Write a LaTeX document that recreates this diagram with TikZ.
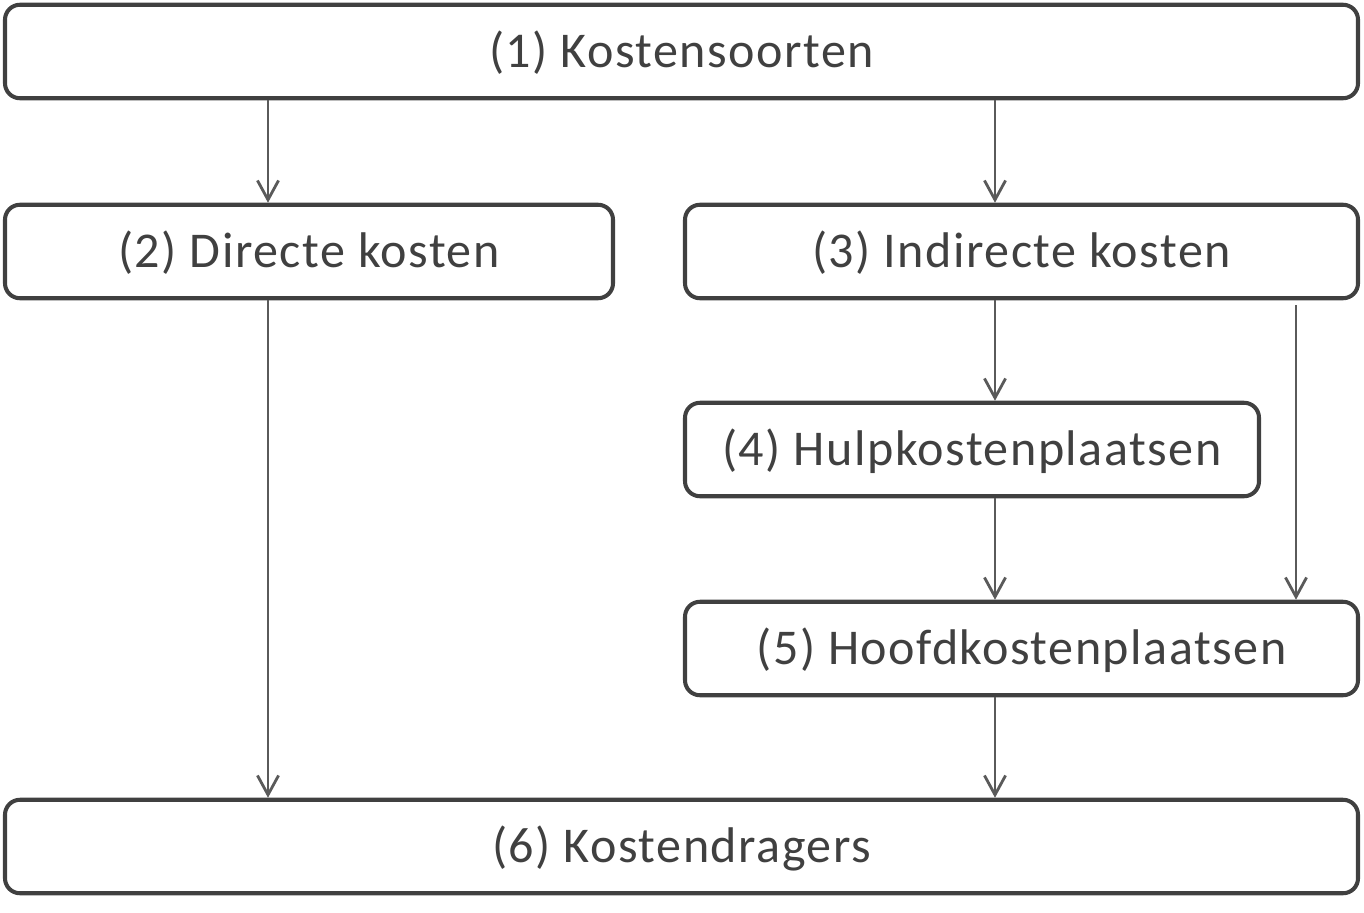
\documentclass[tikz,border=0pt]{standalone}
\usepackage{fontspec}
\setmainfont{Carlito}
\newfontfamily\blokfont[LetterSpace=3]{Carlito}
\usetikzlibrary{arrows.meta}
\definecolor{rand}{HTML}{404040}
\definecolor{pijlkleur}{HTML}{5A5A5A}

\begin{document}
\begin{tikzpicture}[
		blok/.style = {draw = rand, line width = 2.3pt, rounded corners = 0.3cm, text = rand,
			minimum height = 1.87cm, inner sep = 0pt, text height = 0.64cm, text depth = 0pt,
			font = \blokfont\fontsize{28.5}{32}\selectfont},
		pijl/.style = {draw = pijlkleur, line width = 1.6pt, -{Straight Barb[length = 11pt, width = 12pt]}}
	]
		\useasboundingbox (0,0) rectangle (27.28,-18.24);
		\def\xa{5.36};
		\def\xb{19.90};
		\def\xc{25.92};
		
		\coordinate (xa) at (\xa,0);
		\coordinate (xb) at (\xb,0);
		\coordinate (xc) at (\xc,0);
		
		\node [blok, minimum width = 27.06cm] (soorten) at (13.63,-1.03) {(1) Kostensoorten};
		\node [blok, minimum width = 12.16cm] (direct) at (6.18,-5.03) {(2) Directe kosten};
		\node [blok, minimum width = 13.46cm] (indirect) at (20.43,-5.03) {(3) Indirecte kosten};
		\node [blok, minimum width = 11.48cm] (hulp) at (19.44,-8.99) {(4) Hulpkostenplaatsen};
		\node [blok, minimum width = 13.46cm] (hoofd) at (20.43,-12.97) {(5) Hoofdkostenplaatsen};
		\node [blok, minimum width = 27.06cm] (dragers) at (13.63,-16.93) {(6) Kostendragers};

		\draw [pijl] (soorten.south -| xa) -- (direct.north -| xa);
		\draw [pijl] (soorten.south -| xb) -- (indirect.north -| xb);
		\draw [pijl] (indirect.south -| xb) -- (hulp.north -| xb);
		\draw [pijl, shorten < = 0.1cm] (indirect.south -| xc) -- (hoofd.north -| xc);
		\draw [pijl] (hulp.south -| xb) -- (hoofd.north -| xb);
		\draw [pijl] (direct.south -| xa) -- (dragers.north -| xa);
		\draw [pijl] (hoofd.south -| xb) -- (dragers.north -| xb);
	\end{tikzpicture}
\end{document}
